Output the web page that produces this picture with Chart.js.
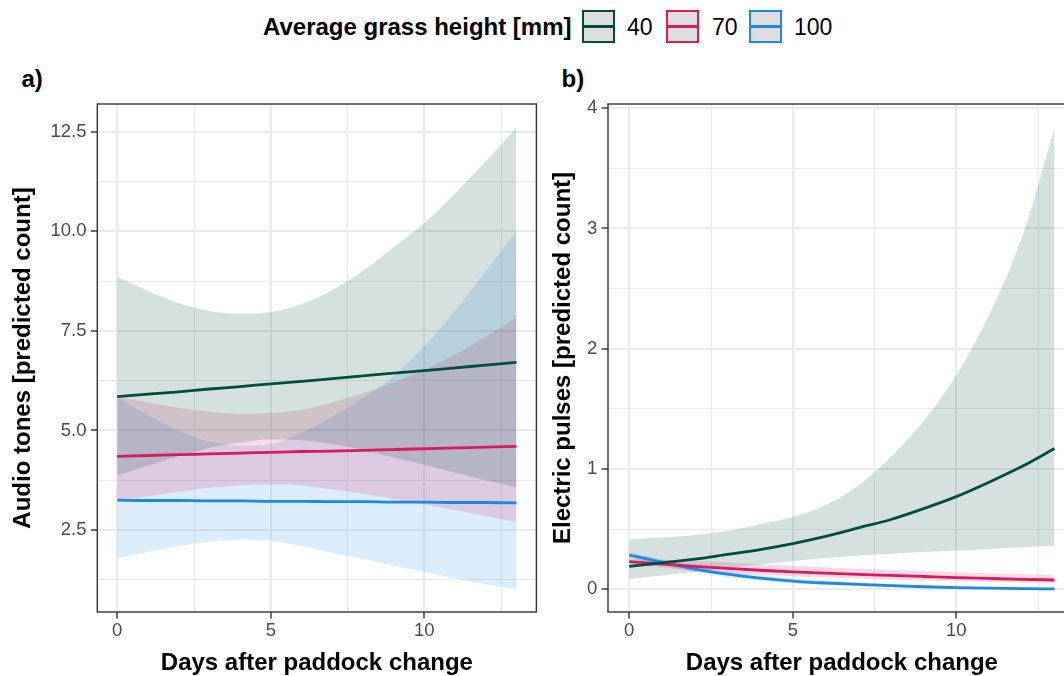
<!DOCTYPE html>
<html>
<head>
<meta charset="utf-8">
<script src="https://cdn.jsdelivr.net/npm/chart.js@4.4.1/dist/chart.umd.min.js"></script>
<style>
html,body{margin:0;padding:0;background:#fff;overflow:hidden;}
#page{position:relative;width:1064px;height:676px;overflow:hidden;font-family:"Liberation Sans",Arial,sans-serif;color:#000;}
.tag{position:absolute;font-weight:bold;font-size:24px;line-height:24px;white-space:nowrap;}
.key{position:absolute;top:10px;width:29px;height:29px;border:2px solid;background:#dedede;}
.key i{position:absolute;left:0;right:0;top:13px;height:3px;}
.lab{position:absolute;top:15px;font-size:23px;line-height:24px;}
#chartA{position:absolute;left:0;top:0;}
#chartB{position:absolute;left:540px;top:0;}
</style>
</head>
<body>
<div id="page">
    <div class="tag" style="left:263px;top:14.7px">Average grass height [mm]</div>
    <div class="key" style="left:582px;border-color:#004d40"><i style="background:#004d40"></i></div>
    <div class="lab" style="left:627px">40</div>
    <div class="key" style="left:666px;border-color:#d81b60"><i style="background:#d81b60"></i></div>
    <div class="lab" style="left:712px">70</div>
    <div class="key" style="left:749px;border-color:#1e88e5"><i style="background:#1e88e5"></i></div>
    <div class="lab" style="left:794px">100</div>
    <div class="tag" style="left:21.5px;top:67.2px">a)</div>
    <div class="tag" style="left:561.5px;top:67.2px">b)</div>
    <canvas id="chartA" width="540" height="680"></canvas>
    <canvas id="chartB" width="550" height="680"></canvas>
</div>
<script>
/*========== Data ==========*/

const days=[0,1,2,3,4,5,6,7,8,9,10,11,12,13];
const heights=["40","70","100"];
const lineColors=["#004d40","#d81b60","#1e88e5"];
const bandColors=["rgba(0,77,64,0.17)","rgba(216,27,96,0.16)","rgba(30,136,229,0.16)"];

const xTicks=[0,2.5,5,7.5,10,12.5];
const xMajor=[0,5,10];

// a) audio tones
const toneFit40=[5.85,5.91,5.97,6.04,6.10,6.17,6.23,6.30,6.37,6.44,6.50,6.57,6.64,6.71];
const toneLow40=[3.87,4.11,4.35,4.56,4.69,4.78,4.75,4.66,4.51,4.32,4.14,3.94,3.75,3.57];
const toneHigh40=[8.85,8.50,8.20,8.00,7.93,7.97,8.17,8.52,9.00,9.60,10.20,10.95,11.75,12.60];
const toneFit70=[4.35,4.37,4.39,4.41,4.43,4.45,4.47,4.48,4.50,4.52,4.54,4.56,4.58,4.60];
const toneLow70=[3.23,3.35,3.46,3.56,3.62,3.64,3.62,3.52,3.41,3.28,3.14,3.00,2.85,2.70];
const toneHigh70=[5.85,5.70,5.57,5.47,5.42,5.44,5.52,5.70,5.93,6.20,6.53,6.90,7.35,7.85];
const toneFit100=[3.25,3.24,3.24,3.23,3.23,3.22,3.22,3.21,3.21,3.20,3.20,3.19,3.19,3.18];
const toneLow100=[1.80,1.95,2.10,2.21,2.26,2.23,2.10,1.93,1.77,1.61,1.45,1.28,1.14,1.01];
const toneHigh100=[5.83,5.38,5.00,4.72,4.62,4.65,4.94,5.34,5.82,6.36,7.11,8.00,9.00,10.00];
const toneTicks=[1.25,2.5,3.75,5,6.25,7.5,8.75,10,11.25,12.5];
const toneMajor=[2.5,5,7.5,10,12.5];

// b) electric pulses
const pulseFit40=[0.19,0.22,0.25,0.29,0.33,0.38,0.44,0.51,0.58,0.67,0.77,0.89,1.02,1.17];
const pulseLow40=[0.085,0.115,0.145,0.175,0.205,0.235,0.26,0.28,0.295,0.31,0.32,0.335,0.35,0.36];
const pulseHigh40=[0.415,0.43,0.45,0.485,0.54,0.60,0.70,0.86,1.10,1.40,1.78,2.28,2.92,3.83];
const pulseFit70=[0.23,0.21,0.19,0.173,0.158,0.145,0.134,0.124,0.115,0.106,0.097,0.09,0.083,0.077];
const pulseLow70=[0.21,0.18,0.155,0.135,0.12,0.107,0.097,0.088,0.08,0.073,0.066,0.06,0.056,0.052];
const pulseHigh70=[0.25,0.245,0.235,0.222,0.208,0.195,0.183,0.172,0.161,0.151,0.141,0.132,0.124,0.116];
const pulseFit100=[0.285,0.225,0.168,0.125,0.092,0.068,0.052,0.040,0.030,0.021,0.014,0.009,0.005,0.003];
const pulseLow100=[0.26,0.2,0.143,0.1,0.07,0.048,0.036,0.027,0.019,0.013,0.008,0.005,0.003,0.001];
const pulseHigh100=[0.31,0.25,0.195,0.152,0.118,0.092,0.072,0.056,0.044,0.034,0.026,0.019,0.014,0.01];
const pulseTicks=[0,0.5,1,1.5,2,2.5,3,3.5,4];
const pulseMajor=[0,1,2,3,4];

/*========== Helpers ==========*/

const $=id=>document.getElementById(id);
const pts=arr=>days.map((d,i)=>({x:d,y:arr[i]}));

Chart.defaults.font.family='"Liberation Sans", Arial, sans-serif';

const panelBox={
    id:"panelBox",
    afterDatasetsDraw(chart){
        const {ctx,chartArea:a}=chart;
        ctx.save();
        ctx.strokeStyle="#333333";
        ctx.lineWidth=1.4;
        ctx.strokeRect(a.left,a.top,a.right-a.left,a.bottom-a.top);
        ctx.restore();
    }
};

function gridFor(majors){
    return {
        color:"#ebebeb",
        lineWidth:c=>c.tick&&majors.includes(c.tick.value)?2:1,
        tickLength:6.5,
        tickWidth:1.4,
        tickColor:c=>c.tick&&majors.includes(c.tick.value)?"#333333":"rgba(0,0,0,0)"
    };
}

function buildDatasets(fits,lows,highs){
    const sets=[];
    fits.forEach((f,i)=>sets.push({
        label:heights[i],data:pts(f),borderColor:lineColors[i],borderWidth:2.8,
        pointRadius:0,fill:false,cubicInterpolationMode:"monotone"
    }));
    highs.forEach((h,i)=>{
        sets.push({data:pts(h),borderWidth:0,pointRadius:0,backgroundColor:bandColors[i],fill:"+1",cubicInterpolationMode:"monotone"});
        sets.push({data:pts(lows[i]),borderWidth:0,pointRadius:0,fill:false,cubicInterpolationMode:"monotone"});
    });
    return sets;
}

/*========== Charts ==========*/

function drawPanel(id,cfg){
    return new Chart($(id),{
        type:"line",
        data:{datasets:buildDatasets(cfg.fits,cfg.lows,cfg.highs)},
        options:{
            responsive:false,animation:false,
            layout:{padding:{left:0,top:104,right:cfg.padRight,bottom:0}},
            plugins:{legend:{display:false},tooltip:{enabled:false}},
            scales:{
                x:{
                    type:"linear",min:-0.65,max:13.65,
                    afterBuildTicks:ax=>{ax.ticks=xTicks.map(v=>({value:v}))},
                    afterFit:ax=>{ax.height=68},
                    ticks:{autoSkip:false,maxRotation:0,padding:1.3,color:"#4d4d4d",font:{size:18.5},
                        callback:v=>xMajor.includes(v)?String(v):""},
                    grid:gridFor(xMajor),
                    border:{display:false},
                    title:{display:true,text:"Days after paddock change",color:"#000",
                        font:{size:24,weight:"bold"},padding:{top:0,bottom:2}}
                },
                y:{
                    type:"linear",min:cfg.yMin,max:cfg.yMax,
                    afterBuildTicks:ax=>{ax.ticks=cfg.yTicks.map(v=>({value:v}))},
                    afterFit:ax=>{ax.width=cfg.yWidth},
                    ticks:{autoSkip:false,padding:4.3,color:"#4d4d4d",font:{size:18.5},
                        callback:v=>cfg.yMajor.includes(v)?cfg.fmt(v):""},
                    grid:gridFor(cfg.yMajor),
                    border:{display:false},
                    title:{display:true,text:cfg.yTitle,color:"#000",
                        font:{size:24,weight:"bold"},padding:{top:9,bottom:0}}
                }
            }
        },
        plugins:[panelBox]
    });
}

drawPanel("chartA",{
    fits:[toneFit40,toneFit70,toneFit100],
    lows:[toneLow40,toneLow70,toneLow100],
    highs:[toneHigh40,toneHigh70,toneHigh100],
    yMin:0.441,yMax:13.195,yTicks:toneTicks,yMajor:toneMajor,fmt:v=>v.toFixed(1),
    yTitle:"Audio tones [predicted count]",yWidth:97.3,padRight:3.6
});

drawPanel("chartB",{
    fits:[pulseFit40,pulseFit70,pulseFit100],
    lows:[pulseLow40,pulseLow70,pulseLow100],
    highs:[pulseHigh40,pulseHigh70,pulseHigh100],
    yMin:-0.189,yMax:4.035,yTicks:pulseTicks,yMajor:pulseMajor,fmt:v=>String(v),
    yTitle:"Electric pulses [predicted count]",yWidth:68,padRight:14.3
});
</script>
</body>
</html>
